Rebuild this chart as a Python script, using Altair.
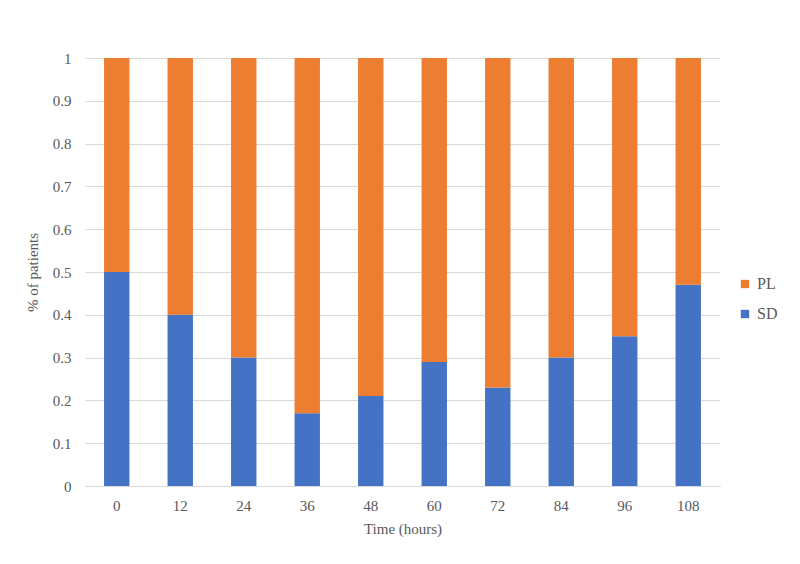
import altair as alt
import pandas as pd

times = ["0", "12", "24", "36", "48", "60", "72", "84", "96", "108"]
sd = [0.50, 0.40, 0.30, 0.17, 0.21, 0.29, 0.23, 0.30, 0.35, 0.47]
pl = [round(1 - v, 2) for v in sd]
series = ["PL", "SD"]
colors = ["#ED7D31", "#4472C4"]

rows = []
for t, s, p in zip(times, sd, pl):
    rows.append({"time": t, "series": "SD", "value": s, "ord": 0})
    rows.append({"time": t, "series": "PL", "value": p, "ord": 1})
df = pd.DataFrame(rows)

FONT = "'Liberation Serif', 'DejaVu Serif', serif"
GRAY = "#595959"

chart = alt.Chart(df).mark_bar().encode(
    x=alt.X("time:N", sort=times,
            scale=alt.Scale(paddingInner=0.6, paddingOuter=0.3),
            axis=alt.Axis(title="Time  (hours)", labelAngle=0, ticks=False,
                          domainColor="#d9d9d9", labelPadding=12,
                          titlePadding=8)),
    y=alt.Y("value:Q", stack="zero",
            scale=alt.Scale(domain=[0, 1]),
            axis=alt.Axis(title="% of patients", values=[i / 10 for i in range(11)],
                          format="~g", ticks=False, domain=False,
                          gridColor="#d9d9d9", labelPadding=14, titlePadding=12)),
    color=alt.Color("series:N",
                    scale=alt.Scale(domain=series, range=colors),
                    legend=alt.Legend(title=None, orient="none", legendX=652,
                                      legendY=218, symbolType="square",
                                      symbolSize=70, rowPadding=14,
                                      labelFontSize=16, labelFont=FONT,
                                      labelColor=GRAY)),
    order=alt.Order("ord:Q"),
).properties(
    width=635, height=428,
    autosize=alt.AutoSizeParams(type="none"),
    padding={"left": 77, "top": 50, "right": 72, "bottom": 70},
).configure_view(stroke=None).configure_axis(
    labelFont=FONT, titleFont=FONT, labelFontSize=15, titleFontSize=15,
    labelColor=GRAY, titleColor=GRAY, titleFontWeight="normal",
)

chart.save("out.html", embed_options={"renderer": "svg", "actions": False})
